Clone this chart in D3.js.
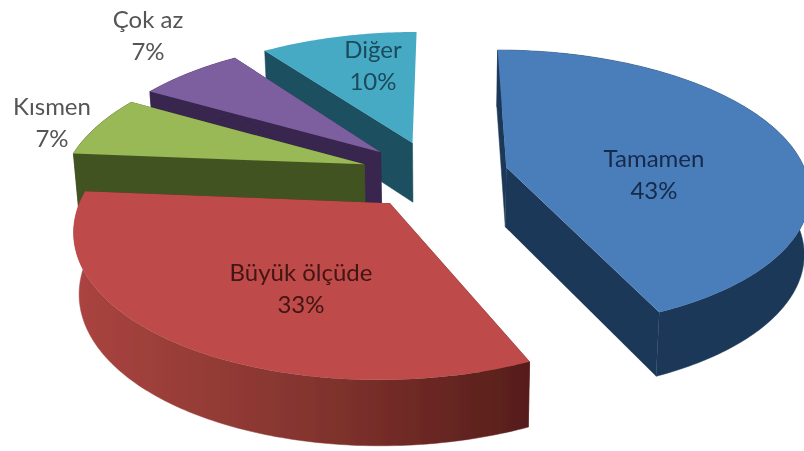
<!DOCTYPE html>
<html><head><meta charset="utf-8">
<script src="https://cdn.jsdelivr.net/npm/d3@7"></script>
<style>html,body{margin:0;padding:0;background:#fff}svg{display:block}</style>
</head><body><div id="c"></div>
<script>
const categories = ["Tamamen","Büyük ölçüde","Kısmen","Çok az","Diğer"];
const values = [43.3,33,7,6.7,10];
const topColors = ["#4a7ebb","#be4b48","#98b954","#7d5fa0","#46aac5"];
const wallColors = ["#1f3858","#7a2e2b","#435224","#37254f","#1d4f60"];
const textColors = ["#16294a","#431412","#555555","#555555","#1b4a5c"];
const labelX = [654,301,52,148,373];
const labelY = [167,281,115,28,58];
const labelGap = 32;

const W=804,H=451;
const vx=443, vy=191, R=306, Ry=143.5, k=0.163, depth=60.5, xShrink=0.985, yShrink=0.96;
const cx0=-0.029, cy0=0.118, expl=0.247;

const svg=d3.select("#c").append("svg").attr("width",W).attr("height",H);
const defs=svg.append("defs");
defs.append("filter").attr("id","soft").append("feGaussianBlur").attr("stdDeviation",0.6);
const rg=defs.append("linearGradient").attr("id","redWall").attr("gradientUnits","userSpaceOnUse")
  .attr("x1",75).attr("x2",530).attr("y1",0).attr("y2",0);
rg.append("stop").attr("offset",0).attr("stop-color","#aa4440");
rg.append("stop").attr("offset",0.5).attr("stop-color","#85352f");
rg.append("stop").attr("offset",1).attr("stop-color","#561d1a");

const arcs=d3.pie().sort(null).value(d=>d).startAngle(0).endAngle(2*Math.PI)(values);
const xScale=d3.scaleLinear().domain([-1,1]).range([-R,R]);
const yScale=d3.scaleLinear().domain([-1,1]).range([Ry,-Ry]);

function proj(gx,gy,bottom){
  const s=1/(1+k*gy);
  const X=xScale(gx)*s, Y=yScale(gy)*s;
  return bottom ? [vx+X*xShrink, vy+Y*yShrink+depth*s] : [vx+X, vy+Y];
}
const line=d3.line();
const layer=svg.append("g").attr("filter","url(#soft)");
const order=[4,3,2,1,0];

order.forEach(i=>{
  const a=arcs[i], mid=(a.startAngle+a.endAngle)/2;
  const ox=cx0+expl*Math.sin(mid), oy=cy0+expl*Math.cos(mid);
  const n=Math.max(8,Math.ceil((a.endAngle-a.startAngle)*60));
  const rim=d3.range(n+1).map(j=>{
    const t=a.startAngle+(a.endAngle-a.startAngle)*j/n;
    return [ox+Math.sin(t),oy+Math.cos(t)];
  });
  const apexTop=proj(ox,oy,false), apexBot=proj(ox,oy,true);
  const rimTop=rim.map(p=>proj(p[0],p[1],false));
  const rimBot=rim.map(p=>proj(p[0],p[1],true));
  const fill=i===1?"url(#redWall)":wallColors[i];
  const g=layer.append("g");
  g.append("path").attr("d",line([apexTop,rimTop[0],rimBot[0],apexBot])+"Z").attr("fill",wallColors[i]).attr("stroke",wallColors[i]).attr("stroke-width",0.5);
  if(i!==4){
    g.append("path").attr("d",line([apexTop,rimTop[n],rimBot[n],apexBot])+"Z").attr("fill",i===1?"#561d1a":wallColors[i]);
    g.append("path").attr("d",line(rimTop.concat(rimBot.slice().reverse()))+"Z").attr("fill",fill).attr("stroke",fill).attr("stroke-width",0.5);
  }
  g.append("path").attr("d",line([apexTop].concat(rimTop))+"Z").attr("fill",topColors[i]);
});

const labels=svg.append("g").attr("font-family","Lato, 'Open Sans', sans-serif").attr("font-size",24)
  .attr("text-anchor","middle").attr("filter","url(#soft)");
categories.forEach((c,i)=>{
  const t=labels.append("text").attr("fill",textColors[i]);
  t.append("tspan").attr("x",labelX[i]).attr("y",labelY[i]).text(c);
  t.append("tspan").attr("x",labelX[i]).attr("y",labelY[i]+labelGap).text(Math.round(values[i])+"%");
});
</script></body></html>
